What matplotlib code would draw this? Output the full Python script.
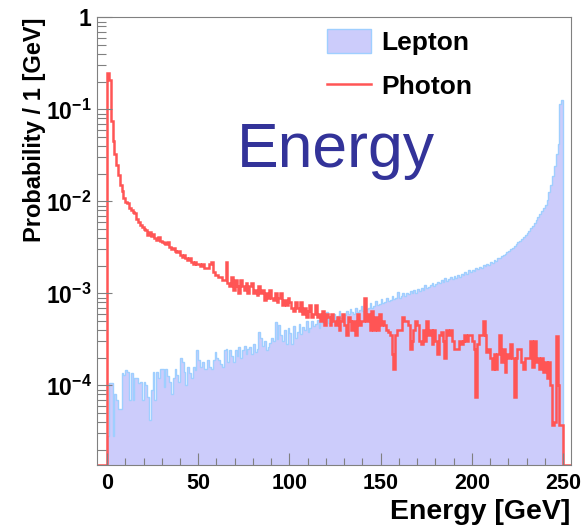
import numpy as np
import matplotlib
matplotlib.use("Agg")
import matplotlib.pyplot as plt
from matplotlib.patches import Patch
from matplotlib.lines import Line2D
from matplotlib.ticker import FixedLocator, FixedFormatter, LogLocator, MultipleLocator, NullFormatter

plt.rcParams["font.family"] = ["Liberation Sans", "DejaVu Sans"]
plt.rcParams["font.weight"] = "bold"
plt.rcParams["mathtext.fontset"] = "custom"
plt.rcParams["mathtext.rm"] = "Liberation Sans:bold"
plt.rcParams["mathtext.bf"] = "Liberation Sans:bold"

# 1 GeV bins from 0 to 250 GeV
bin_edges = np.arange(0, 251)

# probability per bin, in units of 1e-4
lepton_1e4 = [
    0.28, 1.05, 1.05, 0.28, 0.8, 0.7, 0.55, 0.55, 1.35, 1.3,
    1.45, 1.4, 0.7, 1.35, 0.7, 1.2, 1.2, 1.05, 1.1, 0.7,
    1.1, 1.0, 0.75, 0.42, 0.9, 1.4, 0.7, 1.4, 1.2, 1.5,
    1.5, 0.95, 1.5, 1.25, 1.1, 0.8, 1.2, 1.5, 1.3, 1.1,
    2.0, 1.8, 1.4, 1.0, 1.6, 1.35, 1.2, 1.6, 1.45, 2.4,
    1.9, 1.6, 1.8, 1.5, 1.5, 1.9, 1.6, 1.5, 1.9, 2.3,
    2.0, 1.9, 1.7, 1.6, 2.4, 2.5, 1.8, 2.4, 2.1, 1.8,
    2.4, 2.1, 2.6, 2.0, 2.4, 2.7, 2.2, 2.5, 2.6, 2.2,
    2.8, 2.3, 2.5, 3.8, 3.3, 2.7, 3.0, 2.4, 2.6, 2.9,
    3.3, 3.0, 4.9, 3.2, 4.5, 3.5, 3.0, 4.0, 2.8, 4.2,
    3.7, 2.8, 4.4, 3.3, 3.8, 4.6, 3.6, 4.3, 4.0, 5.0,
    3.8, 4.2, 5.0, 4.4, 4.6, 5.1, 4.2, 5.0, 4.8, 5.3,
    6.3, 4.8, 5.4, 5.0, 6.0, 5.2, 5.6, 6.5, 5.4, 6.0,
    5.8, 6.4, 5.9, 6.8, 6.2, 6.0, 7.0, 6.3, 6.6, 7.2,
    6.4, 7.4, 6.8, 7.0, 7.8, 6.9, 7.3, 8.2, 7.4, 7.6,
    8.6, 7.8, 8.0, 8.8, 8.2, 8.5, 9.4, 8.6, 9.0, 10.4,
    9.0, 9.4, 10.0, 9.3, 10.2, 9.8, 10.6, 10.2, 10.8, 10.1,
    11.2, 10.6, 11.4, 11.0, 12.2, 11.3, 11.8, 12.4, 13.0, 12.0,
    12.6, 13.4, 12.8, 13.8, 13.2, 14.5, 13.6, 14.2, 15.0, 14.4,
    15.4, 14.8, 16.0, 15.2, 16.4, 16.0, 17.0, 16.4, 17.8, 17.0,
    18.0, 17.6, 18.8, 18.4, 19.2, 18.8, 20.5, 19.6, 21.0, 20.4,
    22.0, 21.4, 23.0, 22.5, 24.5, 24.0, 25.5, 26.0, 27.0, 28.0,
    29.0, 30.5, 31.5, 33.0, 34.5, 36.0, 37.5, 39.0, 41.0, 43.0,
    45.0, 48.0, 51.0, 54.0, 58.0, 62.0, 67.0, 72.0, 78.0, 85.0,
    92.0, 103.0, 125.0, 150.0, 190.0, 240.0, 330.0, 420.0, 1150.0, 1260.0,
]

photon_1e4 = [
    2500, 2100, 750, 450, 330, 250, 195, 150, 128, 110,
    98, 95, 85, 80, 76, 75, 64, 60, 55, 53,
    50, 49, 43, 47, 42, 44, 40, 38, 41, 37,
    36, 35, 34, 36, 32, 30, 31, 29, 28, 29,
    26, 25, 26, 24, 23, 24, 22, 21, 22, 21,
    21, 20, 21, 19, 19, 19, 21, 22, 17, 16,
    16, 15, 15, 14, 14, 22, 13, 12, 15, 11,
    14, 12, 10, 14, 12, 11, 13, 10, 12, 13,
    10, 11, 9.5, 12, 10, 11, 8.5, 10, 9, 11,
    9, 8.5, 10, 8, 9, 10, 7.5, 8.5, 7.5, 9,
    8, 7, 6.5, 8, 7, 6.5, 8, 6, 7, 5.5,
    6.5, 7.5, 5.5, 6, 7.5, 5.5, 6, 5, 6.5, 4.5,
    6, 5.5, 4.5, 6, 5, 4.5, 5.5, 4, 5, 6,
    4.5, 3.5, 5.5, 5, 4, 5, 3.5, 6, 4.5, 5,
    5, 9, 5, 6, 4, 6.5, 4, 5.5, 4, 6,
    4.5, 5, 4.5, 4, 3.8, 3.5, 2.2, 1.5, 3.5, 4,
    4, 4, 5.5, 5, 5, 4.5, 2.5, 3, 4, 5,
    4.5, 3, 2.8, 4, 3, 5, 3.5, 4, 2.8, 4,
    3, 2.2, 3.5, 3.8, 3, 2, 4, 3.5, 4, 3,
    2.5, 2.5, 2.5, 3, 2.8, 3, 3.5, 3, 3.5, 3.5,
    3, 2.5, 0.75, 2.8, 3.5, 3.5, 5, 3.5, 2.3, 2.5,
    2, 1.5, 2.2, 1.5, 2.2, 3.5, 1.8, 2.5, 1.4, 2.2,
    2, 2.8, 2, 0.75, 2, 2.5, 2.5, 1.8, 1.5, 2,
    2, 2, 3, 1.6, 3, 1.8, 2, 1.5, 2, 1.4,
    1.8, 1.2, 1.8, 1, 0.37, 0.4, 3.4, 1, 0.37, 0.37,
]

xtick_values = [0, 50, 100, 150, 200, 250]
ytick_values = [1e-4, 1e-3, 1e-2, 1e-1, 1]
ytick_labels = [r"$\mathbf{10^{-4}}$", r"$\mathbf{10^{-3}}$", r"$\mathbf{10^{-2}}$",
                r"$\mathbf{10^{-1}}$", "1"]

lepton = np.array(lepton_1e4) * 1e-4
photon = np.array(photon_1e4) * 1e-4

fill_col = "#ccccfb"
edge_col = "#9fcfff"
red = "#ff5555"
frame_col = "#808080"

xmin, xmax = -5.5, 254.4
ymin, ymax = 1.36e-5, 1.01

fig = plt.figure(figsize=(5.82, 5.28), dpi=100)
ax = fig.add_axes([0.1667, 0.1193, 0.8144, 0.8485])
ax.set_yscale("log")
ax.set_xlim(xmin, xmax)
ax.set_ylim(ymin, ymax)

ax.stairs(lepton, bin_edges, baseline=1e-7, fill=True,
          facecolor=fill_col, edgecolor=edge_col, linewidth=1.0)

# photon histogram, empty bins outside 0-250 drawn along the frame bottom
ph_vals = np.concatenate([[ymin], photon, [ymin]])
ph_edges = np.concatenate([[xmin], bin_edges, [xmax]])
ax.stairs(ph_vals, ph_edges, baseline=None, color=red, linewidth=1.8)

ax.xaxis.set_major_locator(FixedLocator(xtick_values))
ax.xaxis.set_minor_locator(MultipleLocator(10))
ax.yaxis.set_major_locator(FixedLocator(ytick_values))
ax.yaxis.set_major_formatter(FixedFormatter(ytick_labels))
ax.yaxis.set_minor_locator(LogLocator(base=10, subs=np.arange(2, 10), numticks=20))
ax.yaxis.set_minor_formatter(NullFormatter())

ax.tick_params(axis="both", which="both", direction="in", color=frame_col, width=0.8)
ax.tick_params(axis="y", which="major", length=11, pad=4, labelsize=16.5)
ax.tick_params(axis="y", which="minor", length=6.5)
ax.tick_params(axis="x", which="major", length=9, pad=6, labelsize=15.5)
ax.tick_params(axis="x", which="minor", length=5)
for s in ax.spines.values():
    s.set_color(frame_col)
    s.set_linewidth(0.8)
ax.set_axisbelow(False)

ax.set_xlabel("Energy [GeV]", fontsize=20.5, fontweight="bold", loc="right")
ax.xaxis.set_label_coords(0.998, -0.076)
ax.set_ylabel("Probability / 1 [GeV]", fontsize=17, fontweight="bold", loc="top")
ax.yaxis.set_label_coords(-0.131, 1.0)
ax.yaxis.label.set_verticalalignment("center")

ax.text(0.295, 0.665, "Energy", transform=ax.transAxes, fontsize=45,
        fontweight="normal", color="#333399", ha="left", va="baseline")

handles = [Patch(facecolor=fill_col, edgecolor=edge_col, linewidth=1.0),
           Line2D([], [], color=red, linewidth=1.8)]
ax.legend(handles, ["Lepton", "Photon"], loc="upper left",
          bbox_to_anchor=(327 / 582, 1 - 29 / 528), bbox_transform=fig.transFigure,
          frameon=False, borderpad=0, borderaxespad=0,
          handlelength=1.67, handleheight=1.0, handletextpad=0.38, labelspacing=0.7,
          prop={"weight": "bold", "size": 19})

fig.savefig("out.png", dpi=100)
